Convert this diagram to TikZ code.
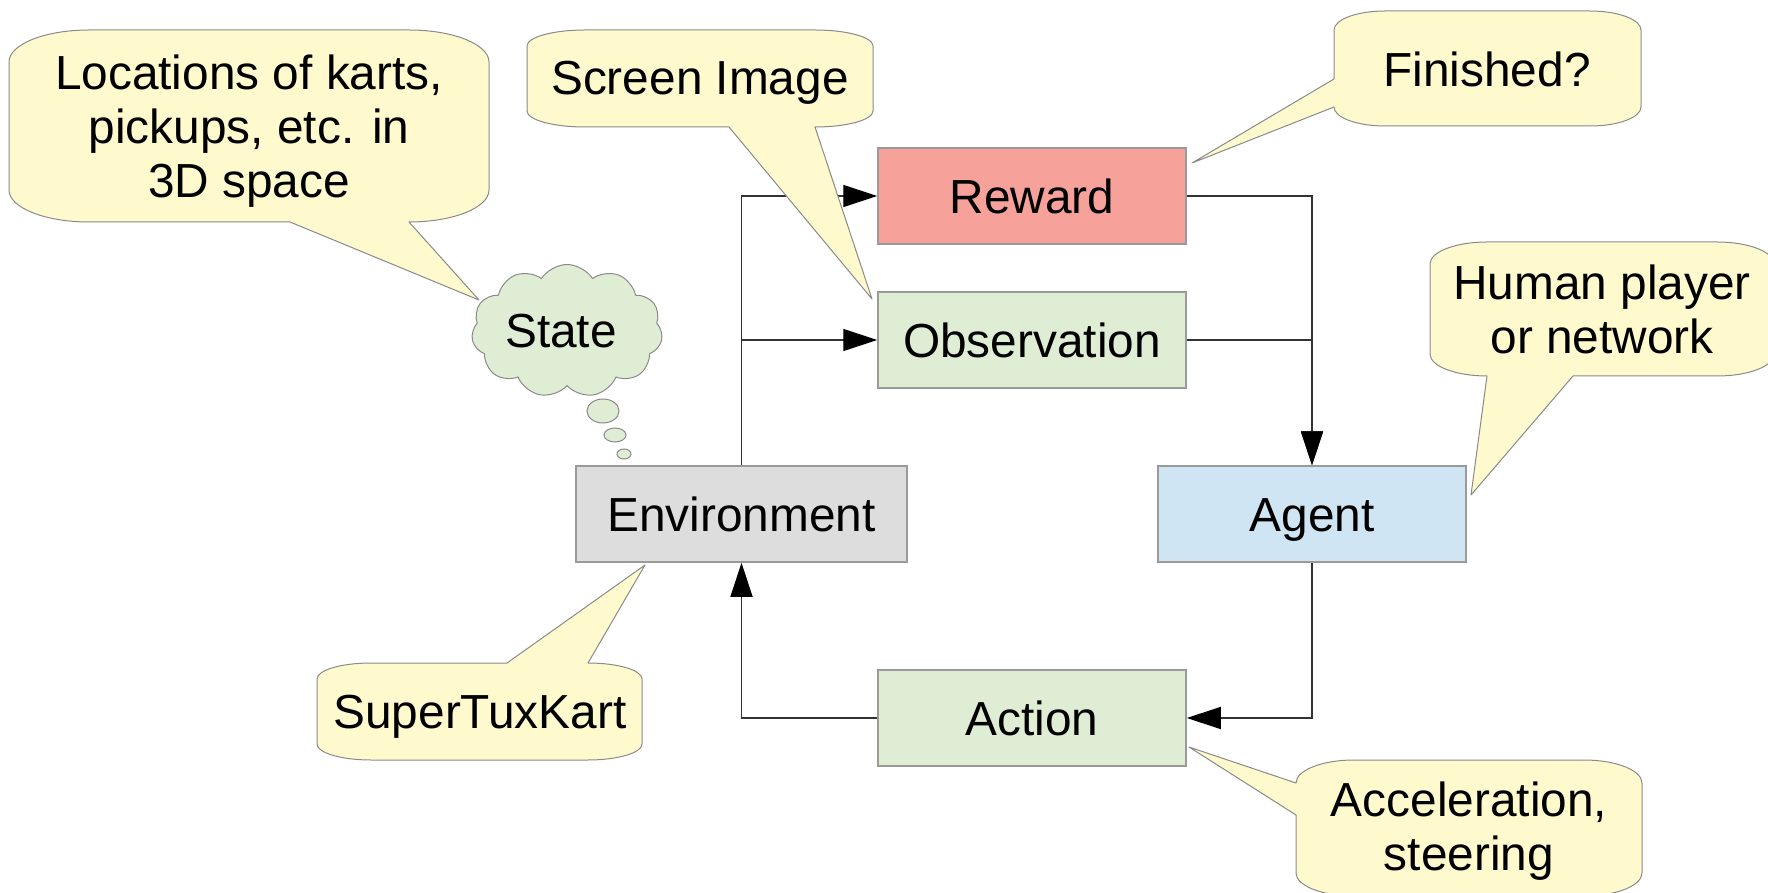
\documentclass[tikz,border=0pt]{standalone}
\usepackage{fontspec}
\setmainfont{Liberation Sans}
\usetikzlibrary{arrows.meta,shapes.symbols}

\definecolor{rewardfill}{HTML}{F6A19A}
\definecolor{greenfill}{HTML}{DFEDD4}
\definecolor{envfill}{HTML}{DDDDDD}
\definecolor{agentfill}{HTML}{CFE5F3}
\definecolor{notefill}{HTML}{FFFACD}
\definecolor{boxline}{HTML}{9A9A9A}
\definecolor{noteline}{HTML}{8A8A8A}
\definecolor{wire}{HTML}{333333}

\tikzset{
  txt/.style={font=\fontsize{23.9}{27}\selectfont, align=center, text=black},
  blockbox/.style={txt, draw=boxline, line width=0.75pt, minimum width=154pt,
                   minimum height=48pt, inner sep=0pt, text height=17.1pt, text depth=0pt},
  conn/.style={draw=wire, line width=0.65pt},
  flow/.style={conn, -{Triangle[length=17pt,width=11pt,color=black]}},
  callout/.style={draw=noteline, fill=notefill, line width=0.5pt, line join=round},
  notetext/.style={txt, inner sep=0pt},
  bubble/.style={draw=noteline, fill=greenfill, line width=0.5pt},
}

\begin{document}
\begin{tikzpicture}[x=0.5pt, y=-0.5pt]
  \useasboundingbox (0,0) rectangle (1768,893);

  % main blocks
  \node[blockbox, fill=rewardfill] (reward) at (1032,196) {Reward};
  \node[blockbox, fill=greenfill]  (obs)    at (1032,340) {Observation};
  \node[blockbox, fill=greenfill]  (action) at (1032,718) {Action};
  \node[blockbox, fill=envfill, minimum width=165.5pt] (env) at (741.5,514) {Environment};
  \node[blockbox, fill=agentfill]  (agent)  at (1312,514) {Agent};

  % loop connectors
  \draw[flow] (env.north) |- (reward.west);
  \draw[flow] (env.north |- obs.west) -- (obs.west);
  \draw[flow] (reward.east) -| (agent.north);
  \draw[flow] (obs.east) -| (agent.north);
  \draw[flow] (agent.south) |- (action.east);
  \draw[flow] (action.west) -| (env.south);

  % thought cloud for the state
  \node[cloud, cloud puffs=11, cloud puff arc=115, aspect=1.45,
        draw=noteline, fill=greenfill, line width=0.5pt,
        minimum width=95.5pt, minimum height=66.5pt, inner sep=0pt]
        (state) at (567,331) {};
  \node[txt, inner sep=0pt] (statetext) at (561,331) {State};
  \draw[bubble] (603,411) ellipse[x radius=16, y radius=12];
  \draw[bubble] (615,435) ellipse[x radius=11, y radius=7];
  \draw[bubble] (624,454) ellipse[x radius=7, y radius=5];

  % speech callouts
  \path[callout] (9,62) arc[start angle=180,end angle=270,x radius=80,y radius=32]
    -- (409,30) arc[start angle=270,end angle=360,x radius=80,y radius=32]
    -- (489,190) arc[start angle=0,end angle=90,x radius=80,y radius=32]
    -- (479,300) -- (290,222)
    -- (89,222) arc[start angle=90,end angle=180,x radius=80,y radius=32] -- cycle;
  \node[notetext] (locations) at (249,131) {Locations of karts,\\pickups, etc. in\\3D space};

  \path[callout] (527,46) arc[start angle=180,end angle=270,x radius=58,y radius=16]
    -- (815,30) arc[start angle=270,end angle=360,x radius=58,y radius=16]
    -- (873,111) arc[start angle=0,end angle=90,x radius=58,y radius=16]
    -- (872,299) -- (729,127)
    -- (585,127) arc[start angle=90,end angle=180,x radius=58,y radius=16] -- cycle;
  \node[notetext] (screen) at (700,83) {Screen Image};

  \path[callout] (1334,30) arc[start angle=180,end angle=270,x radius=51,y radius=19]
    -- (1590,11) arc[start angle=270,end angle=360,x radius=51,y radius=19]
    -- (1641,107) arc[start angle=0,end angle=90,x radius=51,y radius=19]
    -- (1385,126) arc[start angle=90,end angle=180,x radius=51,y radius=19]
    -- (1192,163) -- (1334,79) -- cycle;
  \node[notetext] (finished) at (1487,69) {Finished?};

  \path[callout] (1430,264) arc[start angle=180,end angle=270,x radius=57,y radius=22]
    -- (1717,242) arc[start angle=270,end angle=360,x radius=57,y radius=22]
    -- (1774,354) arc[start angle=0,end angle=90,x radius=57,y radius=22]
    -- (1573,376) -- (1471,495)
    -- (1487,376) arc[start angle=90,end angle=180,x radius=57,y radius=22] -- cycle;
  \node[notetext] (human) at (1602,309) {Human player\\or network};

  \path[callout] (1296,783) arc[start angle=180,end angle=270,x radius=58,y radius=23]
    -- (1584,760) arc[start angle=270,end angle=360,x radius=58,y radius=23]
    -- (1642,873) arc[start angle=0,end angle=90,x radius=58,y radius=23]
    -- (1354,896) arc[start angle=90,end angle=180,x radius=58,y radius=23]
    -- (1296,815) -- (1189,747) -- cycle;
  \node[notetext] (accel) at (1469,831) {Acceleration,\\steering};

  \path[callout] (317,679) arc[start angle=180,end angle=270,x radius=54,y radius=16]
    -- (507,663) -- (645,565)
    -- (588,663) arc[start angle=270,end angle=360,x radius=54,y radius=16]
    -- (642,744) arc[start angle=0,end angle=90,x radius=54,y radius=16]
    -- (371,760) arc[start angle=90,end angle=180,x radius=54,y radius=16] -- cycle;
  \node[notetext] (stk) at (480,717) {SuperTuxKart};
\end{tikzpicture}
\end{document}
